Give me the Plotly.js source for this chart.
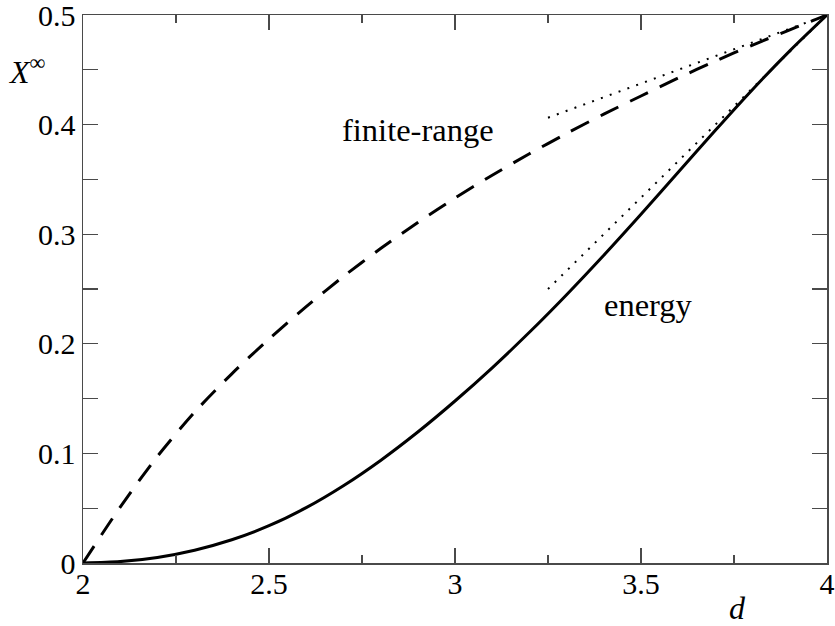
<!DOCTYPE html>
<html>
<head>
<meta charset="utf-8">
<script src="https://cdn.plot.ly/plotly-3.0.1.min.js"></script>
<style>
  html, body { margin: 0; padding: 0; background: #fff; }
  #chart { width: 835px; height: 626px; }
</style>
</head>
<body>
<div id="chart"></div>
<script>
// values
const dValues = [2.0, 2.1, 2.2, 2.3, 2.4, 2.5, 2.6, 2.7, 2.8, 2.9, 3.0,
                 3.1, 3.2, 3.3, 3.4, 3.5, 3.6, 3.7, 3.8, 3.9, 4.0];
const energyX = [0, 0.0013, 0.0051, 0.0117, 0.0212, 0.0340, 0.0505, 0.0705, 0.0936, 0.1195, 0.1478,
                 0.1781, 0.2105, 0.2448, 0.2808, 0.3182, 0.3565, 0.3948, 0.4321, 0.4673, 0.5];
const finiteX = [0, 0.051, 0.0973, 0.1376, 0.1726, 0.2044, 0.2339, 0.2614, 0.2869, 0.3107, 0.3330,
                 0.3538, 0.3734, 0.3919, 0.4095, 0.4261, 0.4425, 0.4580, 0.4726, 0.4865, 0.5];

// tangent lines at d = 4 (dotted)
const tangentD = [3.25, 4];
const energyTangent = [0.25, 0.5];
const finiteTangent = [0.40625, 0.5];

const labelNames = ["finite-range", "energy"];
const labelD = [2.9, 3.52];
const labelX = [0.395, 0.235];

const SERIF = "Liberation Serif";
const AXIS_COLOR = "#4a4a4a";

const traces = [
  {
    x: dValues, y: energyX, type: "scatter", mode: "lines",
    line: { color: "#000", width: 3, shape: "spline", smoothing: 0.8 },
  },
  {
    x: dValues, y: finiteX, type: "scatter", mode: "lines",
    line: { color: "#000", width: 3, shape: "spline", smoothing: 0.8, dash: "20px,13px" },
  },
  {
    x: tangentD, y: energyTangent, type: "scatter", mode: "lines",
    line: { color: "#000", width: 2, dash: "2px,7.4px" },
  },
  {
    x: tangentD, y: finiteTangent, type: "scatter", mode: "lines",
    line: { color: "#000", width: 2, dash: "2px,7.4px" },
  },
];

const annotations = labelNames.map((name, i) => ({
  text: name, x: labelD[i], y: labelX[i], xref: "x", yref: "y",
  xanchor: "center", yanchor: "middle",
  showarrow: false, font: { family: SERIF, size: 32.5, color: "#000" },
}));
annotations.push({
  text: "<i>X</i><sup>∞</sup>", xref: "paper", yref: "y", x: -0.075, y: 0.45,
  xanchor: "center", yanchor: "middle",
  showarrow: false, font: { family: SERIF, size: 32, color: "#000" },
});
annotations.push({
  text: "<i>d</i>", xref: "x", yref: "paper", x: 3.76, y: -0.083,
  xanchor: "center", yanchor: "middle",
  showarrow: false, font: { family: SERIF, size: 32, color: "#000" },
});

const layout = {
  width: 835,
  height: 626,
  paper_bgcolor: "#fff",
  plot_bgcolor: "#fff",
  margin: { l: 83, r: 8, t: 15, b: 63 },
  showlegend: false,
  font: { family: SERIF, size: 30, color: "#000" },
  xaxis: {
    range: [2, 4],
    tickvals: [2, 2.5, 3, 3.5, 4],
    ticktext: ["2", "2.5", "3", "3.5", "4"],
    ticks: "inside", ticklen: 15, tickwidth: 1.3, tickcolor: AXIS_COLOR,
    minor: { dtick: 0.25, ticks: "inside", ticklen: 8, tickwidth: 1.3, tickcolor: AXIS_COLOR, showgrid: false },
    showline: true, linecolor: AXIS_COLOR, linewidth: 1.5, mirror: "ticks",
    showgrid: false, zeroline: false,
    ticklabelstandoff: -7,
    ticklabeloverflow: "allow",
  },
  yaxis: {
    range: [0, 0.5],
    tickvals: [0, 0.1, 0.2, 0.3, 0.4, 0.5],
    ticktext: ["0", "0.1", "0.2", "0.3", "0.4", "0.5"],
    ticks: "inside", ticklen: 15, tickwidth: 1.3, tickcolor: AXIS_COLOR,
    minor: { dtick: 0.05, ticks: "inside", ticklen: 15, tickwidth: 1.3, tickcolor: AXIS_COLOR, showgrid: false },
    showline: true, linecolor: AXIS_COLOR, linewidth: 1.5, mirror: "ticks",
    showgrid: false, zeroline: false,
    ticklabelstandoff: 0,
    ticklabeloverflow: "allow",
  },
  annotations: annotations,
};

Plotly.newPlot("chart", traces, layout, { displayModeBar: false, staticPlot: true });
</script>
</body>
</html>
